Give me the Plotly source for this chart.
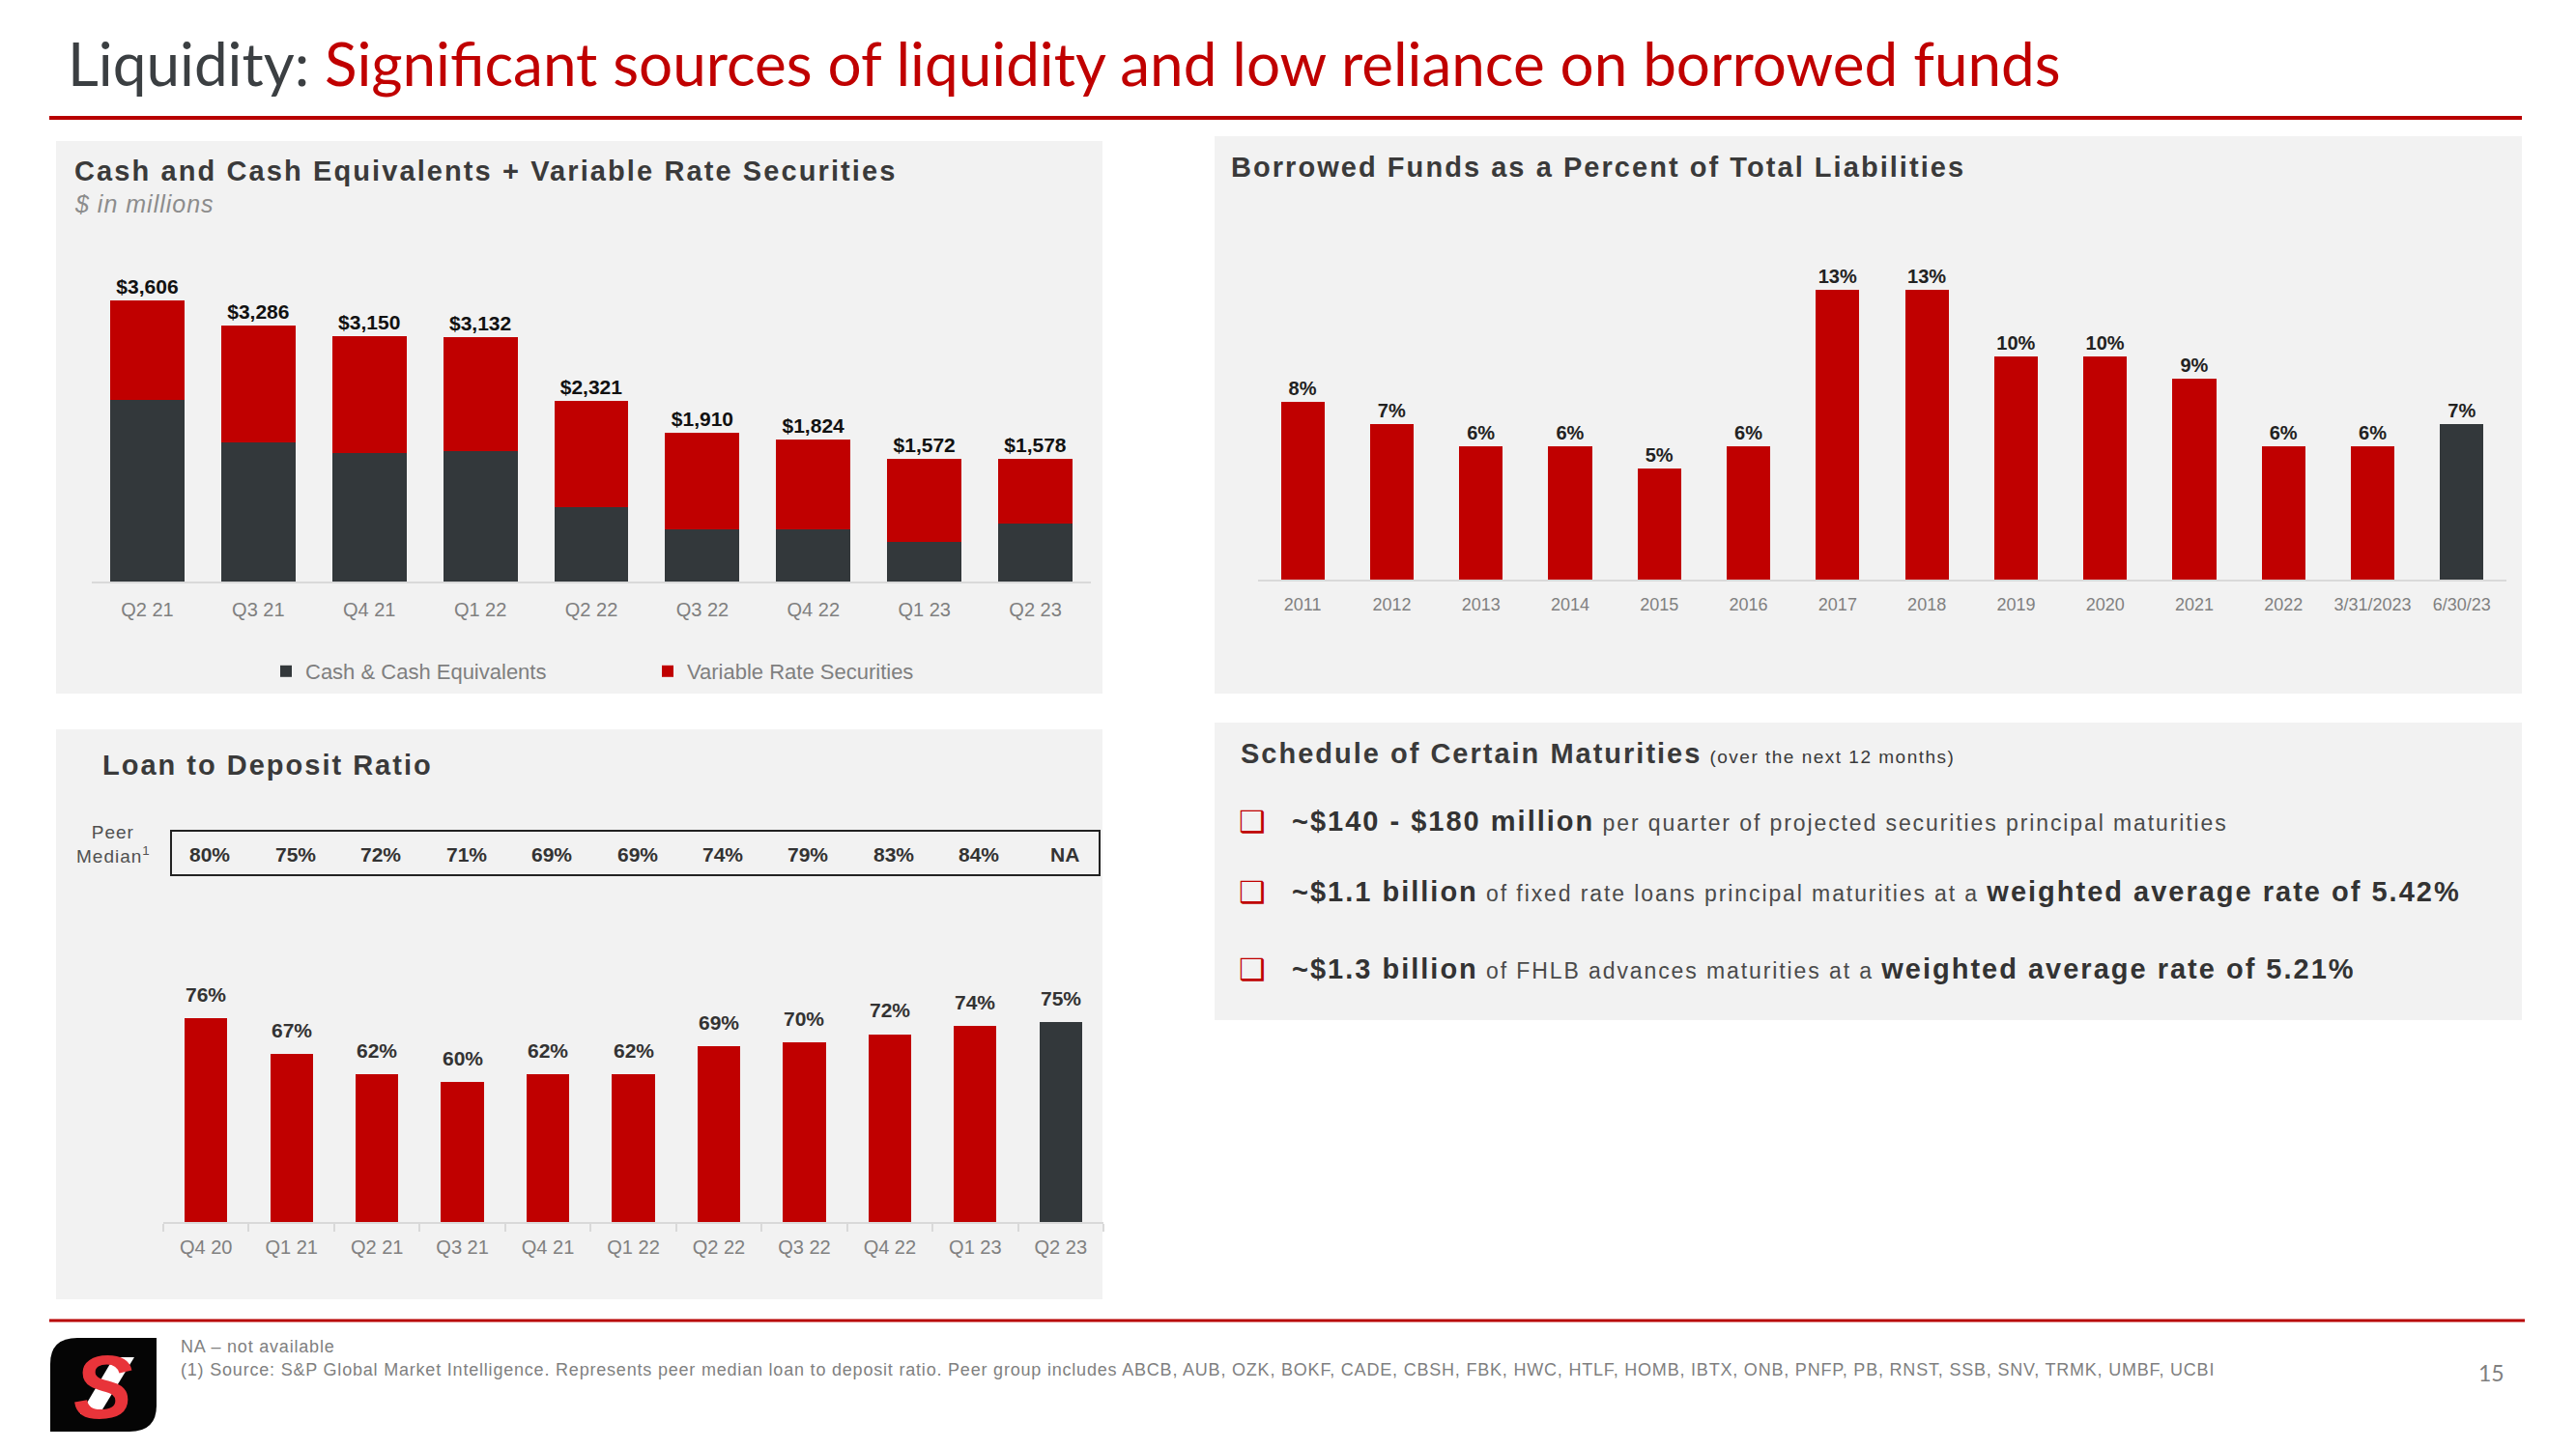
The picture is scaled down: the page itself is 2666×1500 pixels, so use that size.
import plotly.graph_objects as go

W, H = 2666, 1500
OFF = 8  # page body margin of the browser

# ---------------- data ----------------
cash_quarters = ["Q2 21", "Q3 21", "Q4 21", "Q1 22", "Q2 22", "Q3 22", "Q4 22", "Q1 23", "Q2 23"]
cash_totals = [3606, 3286, 3150, 3132, 2321, 1910, 1824, 1572, 1578]
cash_equiv = [2330, 1780, 1645, 1677, 955, 672, 672, 512, 740]
variable_rate = [t - c for t, c in zip(cash_totals, cash_equiv)]

borrow_years = ["2011", "2012", "2013", "2014", "2015", "2016", "2017", "2018",
                "2019", "2020", "2021", "2022", "3/31/2023", "6/30/23"]
borrow_pct = [8, 7, 6, 6, 5, 6, 13, 13, 10, 10, 9, 6, 6, 7]

ltd_quarters = ["Q4 20", "Q1 21", "Q2 21", "Q3 21", "Q4 21", "Q1 22", "Q2 22",
                "Q3 22", "Q4 22", "Q1 23", "Q2 23"]
ltd_pct = [76, 67, 62, 60, 62, 62, 69, 70, 72, 74, 75]
peer_median = ["80%", "75%", "72%", "71%", "69%", "69%", "74%", "79%", "83%", "84%", "NA"]

# ---------------- styles ----------------
RED = "#C00000"
DARK = "#33383B"
PANEL = "#F2F2F2"
GRAY = "#808080"
TXT = "#3A3A3A"
FONT = "Liberation Sans, Arial, sans-serif"
TFONT = "Lato, Open Sans, sans-serif"


def px(x):
    return (x - OFF) / W


def py(y):
    return 1 - (y - OFF) / H


def colors_last_dark(n):
    return [RED] * (n - 1) + [DARK]


def ls(text, sp):
    return f"<span style='letter-spacing:{sp}px'>{text}</span>"


fig = go.Figure()

# Chart 1 : stacked bars
fig.add_trace(go.Bar(
    x=cash_quarters, y=cash_equiv, name="Cash & Cash Equivalents",
    marker=dict(color=DARK, line=dict(width=0)), width=0.67,
    xaxis="x", yaxis="y", hoverinfo="skip"))
fig.add_trace(go.Bar(
    x=cash_quarters, y=variable_rate, name="Variable Rate Securities",
    marker=dict(color=RED, line=dict(width=0)), width=0.67,
    text=[f"${t:,}" for t in cash_totals], textposition="outside",
    textfont=dict(family=FONT, size=21, color="#111111", weight="bold"),
    cliponaxis=False, xaxis="x", yaxis="y", hoverinfo="skip"))

# Chart 2 : borrowed funds
fig.add_trace(go.Bar(
    x=borrow_years, y=borrow_pct, showlegend=False,
    marker=dict(color=colors_last_dark(len(borrow_pct)), line=dict(width=0)), width=0.49,
    text=[f"{v}%" for v in borrow_pct], textposition="outside",
    textfont=dict(family=FONT, size=20, color="#222222", weight="bold"),
    cliponaxis=False, xaxis="x2", yaxis="y2", hoverinfo="skip"))

# Chart 3 : loan to deposit
fig.add_trace(go.Bar(
    x=ltd_quarters, y=ltd_pct, showlegend=False,
    marker=dict(color=colors_last_dark(len(ltd_pct)), line=dict(width=0)), width=0.5,
    cliponaxis=False, xaxis="x3", yaxis="y3", hoverinfo="skip"))

axis_common = dict(showgrid=False, zeroline=False, fixedrange=True)

fig.update_layout(
    width=W, height=H,
    margin=dict(l=0, r=0, t=0, b=0),
    paper_bgcolor="white", plot_bgcolor="rgba(0,0,0,0)",
    barmode="stack",
    font=dict(family=FONT, color=TXT),
    showlegend=True,
    legend=dict(orientation="h", x=px(276), y=py(695), xanchor="left", yanchor="middle",
                font=dict(family=FONT, size=22, color="#7F7F7F"),
                bgcolor="rgba(0,0,0,0)", entrywidth=350, entrywidthmode="pixels",
                traceorder="normal"),
    xaxis=dict(domain=[px(95), px(1129)], anchor="y", showline=True, linecolor="#D9D9D9",
               linewidth=2, ticks="", tickfont=dict(size=20, color=GRAY),
               ticklabelstandoff=10, **axis_common),
    yaxis=dict(domain=[py(602), py(247)], anchor="x", range=[0, 4400], visible=False, **axis_common),
    xaxis2=dict(domain=[px(1302), px(2594)], anchor="y2", showline=True, linecolor="#D9D9D9",
                linewidth=2, ticks="", tickfont=dict(size=18, color=GRAY),
                ticklabelstandoff=8, **axis_common),
    yaxis2=dict(domain=[py(600), py(231)], anchor="x2", range=[0, 16], visible=False, **axis_common),
    xaxis3=dict(domain=[px(169), px(1142)], anchor="y3", showline=True, linecolor="#D9D9D9",
                linewidth=2, ticks="outside", tickson="boundaries", ticklen=8, tickcolor="#D9D9D9",
                tickwidth=2, tickfont=dict(size=20, color=GRAY), ticklabelstandoff=7, **axis_common),
    yaxis3=dict(domain=[py(1265), py(1017)], anchor="x3", range=[25, 85], visible=False, **axis_common),
)

shapes = []


def rect(x0, y0, x1, y1, fill=None, line=None, lw=0, layer="below"):
    d = dict(type="rect", xref="paper", yref="paper", x0=px(x0), x1=px(x1), y0=py(y1), y1=py(y0),
             layer=layer, line=dict(width=lw, color=line or "rgba(0,0,0,0)"))
    if fill:
        d["fillcolor"] = fill
    return d


# panels
shapes.append(rect(58, 146, 1141, 718, fill=PANEL))
shapes.append(rect(1257, 141, 2610, 718, fill=PANEL))
shapes.append(rect(58, 755, 1141, 1345, fill=PANEL))
shapes.append(rect(1257, 748, 2610, 1056, fill=PANEL))
# title and footer rules
shapes.append(dict(type="line", xref="paper", yref="paper", x0=px(51), x1=px(2610), y0=py(122), y1=py(122),
                   line=dict(color="#B80000", width=4)))
shapes.append(dict(type="line", xref="paper", yref="paper", x0=px(51), x1=px(2613), y0=py(1367), y1=py(1367),
                   line=dict(color="#B80000", width=3)))
# peer median box
shapes.append(rect(177, 860, 1138, 906, line="#222222", lw=2, layer="above"))


# logo
def P(x, y):
    return f"{px(x):.5f},{py(y):.5f}"


logo = (f"M {P(52,1412)} Q {P(52,1385)} {P(80,1385)} L {P(162,1385)} L {P(162,1455)} "
        f"Q {P(162,1482)} {P(134,1482)} L {P(52,1482)} Z")
shapes.append(dict(type="path", xref="paper", yref="paper", path=logo, fillcolor="#050505",
                   line=dict(width=0), layer="above"))
slash = f"M {P(118,1405)} L {P(139,1405)} L {P(103,1464)} L {P(83,1464)} Z"
shapes.append(dict(type="path", xref="paper", yref="paper", path=slash, fillcolor="white",
                   line=dict(width=0), layer="above"))

fig.update_layout(shapes=shapes)

ann = []


def A(text, x, y, size, color=TXT, xanchor="left", family=FONT, **kw):
    d = dict(text=text, x=px(x), y=py(y), xref="paper", yref="paper", showarrow=False,
             xanchor=xanchor, yanchor="middle", font=dict(family=family, size=size, color=color))
    d.update(kw)
    return d


ann.append(A(f"<span style='color:#3B3F42'>Liquidity: </span><span style='color:{RED}'>Significant sources of liquidity and low reliance on borrowed funds</span>",
             68, 65, 62, family=TFONT))

ann.append(A("<b>" + ls("Cash and Cash Equivalents + Variable Rate Securities", 2.1) + "</b>", 75, 177, 29, color="#3A3A3A"))
ann.append(A("<i>" + ls("$ in millions", 1) + "</i>", 75, 211, 25, color="#8C8C8C"))
ann.append(A("<b>" + ls("Borrowed Funds as a Percent of Total Liabilities", 2.05) + "</b>", 1272, 173, 29, color="#3A3A3A"))
ann.append(A("<b>" + ls("Loan to Deposit Ratio", 2.0) + "</b>", 104, 792, 29, color="#3A3A3A"))

# Loan to deposit data labels
for q, v in zip(ltd_quarters, ltd_pct):
    ann.append(dict(text=f"<b>{v}%</b>", x=q, y=v, xref="x3", yref="y3", showarrow=False,
                    xanchor="center", yanchor="middle", yshift=25,
                    font=dict(family=FONT, size=21, color="#333333")))

ann.append(A(ls("Peer", 1) + "<br>" + ls("Median", 1) + "<sup>1</sup>", 117, 874, 19, color="#505050",
             xanchor="center", align="center"))
for q, v in zip(ltd_quarters, peer_median):
    ann.append(dict(text=f"<b>{v}</b>", x=q, y=py(884), xref="x3", yref="paper", showarrow=False,
                    xanchor="center", yanchor="middle", xshift=4,
                    font=dict(family=FONT, size=21, color="#333333")))

ann.append(A("<b>" + ls("Schedule of Certain Maturities", 2.0) + "</b> "
             + "<span style='font-size:19px;letter-spacing:1.5px'>(over the next 12 months)</span>",
             1282, 780, 29, color="#3A3A3A"))

bullets = [
    ("~$140 - $180 million", " per quarter of projected securities principal maturities", ""),
    ("~$1.1 billion", " of fixed rate loans principal maturities at a ", "weighted average rate of 5.42%"),
    ("~$1.3 billion", " of FHLB advances maturities at a ", "weighted average rate of 5.21%"),
]
for (b1, reg, b2), yy in zip(bullets, [850, 923, 1003]):
    ann.append(A("\u2751", 1296, yy, 31, color=RED, xanchor="center", family="DejaVu Sans"))
    t = f"<b><span style='letter-spacing:2px'>{b1}</span></b>" \
        f"<span style='font-size:23px;color:#4A4A4A;letter-spacing:1.9px'>{reg}</span>"
    if b2:
        t += f"<b><span style='letter-spacing:2px'>{b2}</span></b>"
    ann.append(A(t, 1335, yy, 29, color="#333333"))

ann.append(A(ls("NA \u2013 not available", 0.8), 185, 1394, 18, color="#7F7F7F"))
ann.append(A(ls("(1) Source: S&P Global Market Intelligence. Represents peer median loan to deposit ratio. "
                "Peer group includes ABCB, AUB, OZK, BOKF, CADE, CBSH, FBK, HWC, HTLF, HOMB, IBTX, ONB, PNFP, "
                "PB, RNST, SSB, SNV, TRMK, UMBF, UCBI", 0.8), 185, 1418, 18, color="#7F7F7F"))
ann.append(A("15", 2578, 1421, 23, color="#7F7F7F", xanchor="center", family=TFONT))
ann.append(A("<b><i>S</i></b>", 106, 1436, 92, color="#E8343A", xanchor="center", family=FONT))

fig.update_layout(annotations=ann)

fig.write_html("out.html")
